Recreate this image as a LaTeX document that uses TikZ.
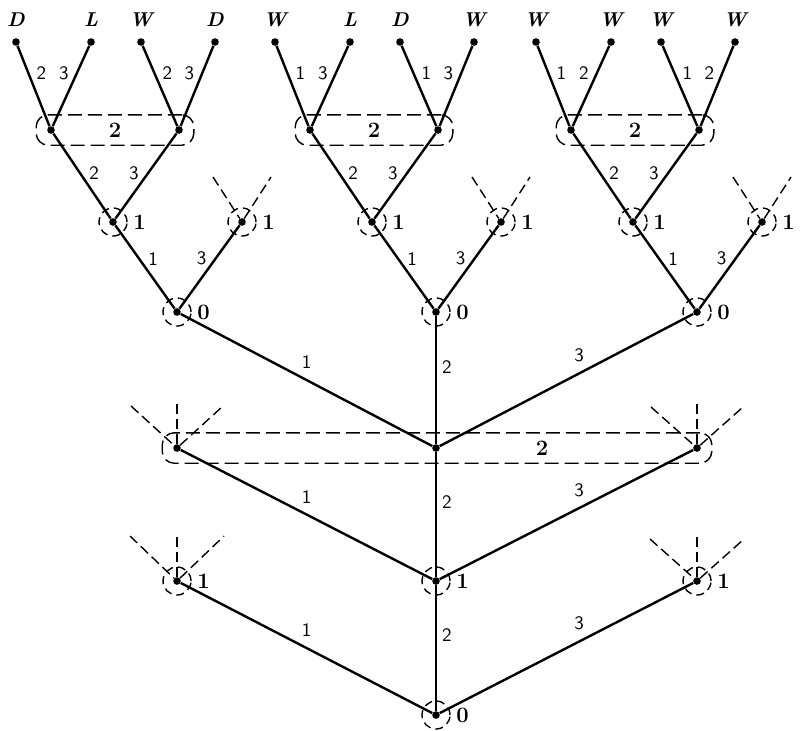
\documentclass[tikz,border=0pt]{standalone}
\usepackage{tikz}
\usetikzlibrary{fit}

% open (unfinished) branches above a node
\newcommand{\stubpair}[3]{%
  \path (#1) ++(-#2,-#3) coordinate (#1-ul) (#1) ++(#2,-#3) coordinate (#1-ur);
  \draw[stub] (#1-ul) -- (#1) -- (#1-ur);}
\newcommand{\stubup}[2]{%
  \path (#1) ++(0,-#2) coordinate (#1-u);
  \draw[stub] (#1) -- (#1-u);}

\begin{document}
\begin{tikzpicture}[x=0.5pt,y=-0.5pt,
	dot/.style={circle,fill,inner sep=0pt,minimum size=3.8pt},
	nlab/.style={font=\bfseries\fontsize{11}{13}\selectfont,label distance=4.5pt},
	tag/.style={dot,label={[nlab]right:#1}},
	leaf/.style={font=\bfseries\itshape\fontsize{10}{12}\selectfont,label distance=2pt},
	move/.style={line width=1.2pt},
	elab/.style={font=\sffamily\fontsize{9.5}{11}\selectfont,inner sep=2.5pt},
	ring/.style={line width=0.7pt,dash pattern=on 4pt off 2.5pt},
	stub/.style={line width=0.7pt,dash pattern=on 5pt off 2.5pt},
	infoset/.style={draw,line width=0.7pt,dash pattern=on 7pt off 3pt,
		rounded corners=6pt,inner xsep=5.3pt,inner ysep=5.5pt}]
	
	\useasboundingbox (0,0) rectangle (802,730);
	
	\node[tag=0] (root) at (436,715) {};
	\node[tag=1] (a1) at (177,581) {};
	\node[tag=1] (a2) at (436,581) {};
	\node[tag=1] (a3) at (697,581) {};
	\node[dot] (b1) at (177,448) {};
	\node[dot] (b2) at (436,448) {};
	\node[dot] (b3) at (697,448) {};
	
	\path[move]
	(root) edge node[elab,above=2.5pt] {1} (a1)
	(root) edge node[elab,right,pos=.6] {2} (a2)
	(root) edge node[elab,above=2.5pt,pos=.55] {3} (a3)
	(a2) edge node[elab,above=2.5pt] {1} (b1)
	(a2) edge node[elab,right,pos=.6] {2} (b2)
	(a2) edge node[elab,above=2.5pt,pos=.55] {3} (b3);
	
	\node[infoset,fit=(b1)(b3)] (ib) {};
	\node[nlab] at (542,448) {2};
	
	\stubpair{a1}{47}{45} \stubup{a1}{47}
	\stubpair{a3}{47}{42} \stubup{a3}{44}
	\stubpair{b1}{46}{42} \stubup{b1}{47}
	\stubpair{b3}{46}{41} \stubup{b3}{45}
	
	% the three upper subtrees
	\foreach \i/\x/\la/\lb/\lc/\ld/\ea/\eb/\ec/\ed in
		{1/177/D/L/W/D/2/3/2/3, 2/436/W/L/D/W/1/3/1/3, 3/697/W/W/W/W/1/2/1/2}{
		\node[tag=0] (c\i) at (\x,312) {};
		\node[tag=1] (g\i) at (\x-64,222) {};
		\node[tag=1] (h\i) at (\x+65,222) {};
		\node[dot] (d\i) at (\x-126,130) {};
		\node[dot] (e\i) at (\x+2,130) {};
		\node[dot,label={[leaf]above:\la}] (s\i) at (\x-161,42) {};
		\node[dot,label={[leaf]above:\lb}] (t\i) at (\x-86,42) {};
		\node[dot,label={[leaf]above:\lc}] (u\i) at (\x-36,42) {};
		\node[dot,label={[leaf]above:\ld}] (v\i) at (\x+38,42) {};
		
		\path[move]
		(c\i) edge node[elab,right=1.5pt,pos=.6] {1} (g\i)
		(c\i) edge node[elab,left=1.5pt,pos=.6] {3} (h\i)
		(g\i) edge node[elab,right=1.5pt,pos=.53] {2} (d\i)
		(g\i) edge node[elab,left=1.5pt,pos=.53] {3} (e\i)
		(d\i) edge node[elab,right=1pt,pos=.66] {\ea} (s\i)
		(d\i) edge node[elab,left=1pt,pos=.66] {\eb} (t\i)
		(e\i) edge node[elab,right=1pt,pos=.66] {\ec} (u\i)
		(e\i) edge node[elab,left=1pt,pos=.66] {\ed} (v\i);
		
		\node[infoset,fit=(d\i)(e\i)] (i\i) {};
		\node[nlab] at (i\i) {2};
		\stubpair{h\i}{29}{45}
	}
	
	\path[move]
	(b2) edge node[elab,above=2.5pt] {1} (c1)
	(b2) edge node[elab,right,pos=.6] {2} (c2)
	(b2) edge node[elab,above=2.5pt,pos=.55] {3} (c3);
	
	\foreach \n in {root,a1,a2,a3,c1,c2,c3,g1,g2,g3,h1,h2,h3}
		\draw[ring] (\n) circle (7pt);
\end{tikzpicture}
\end{document}
